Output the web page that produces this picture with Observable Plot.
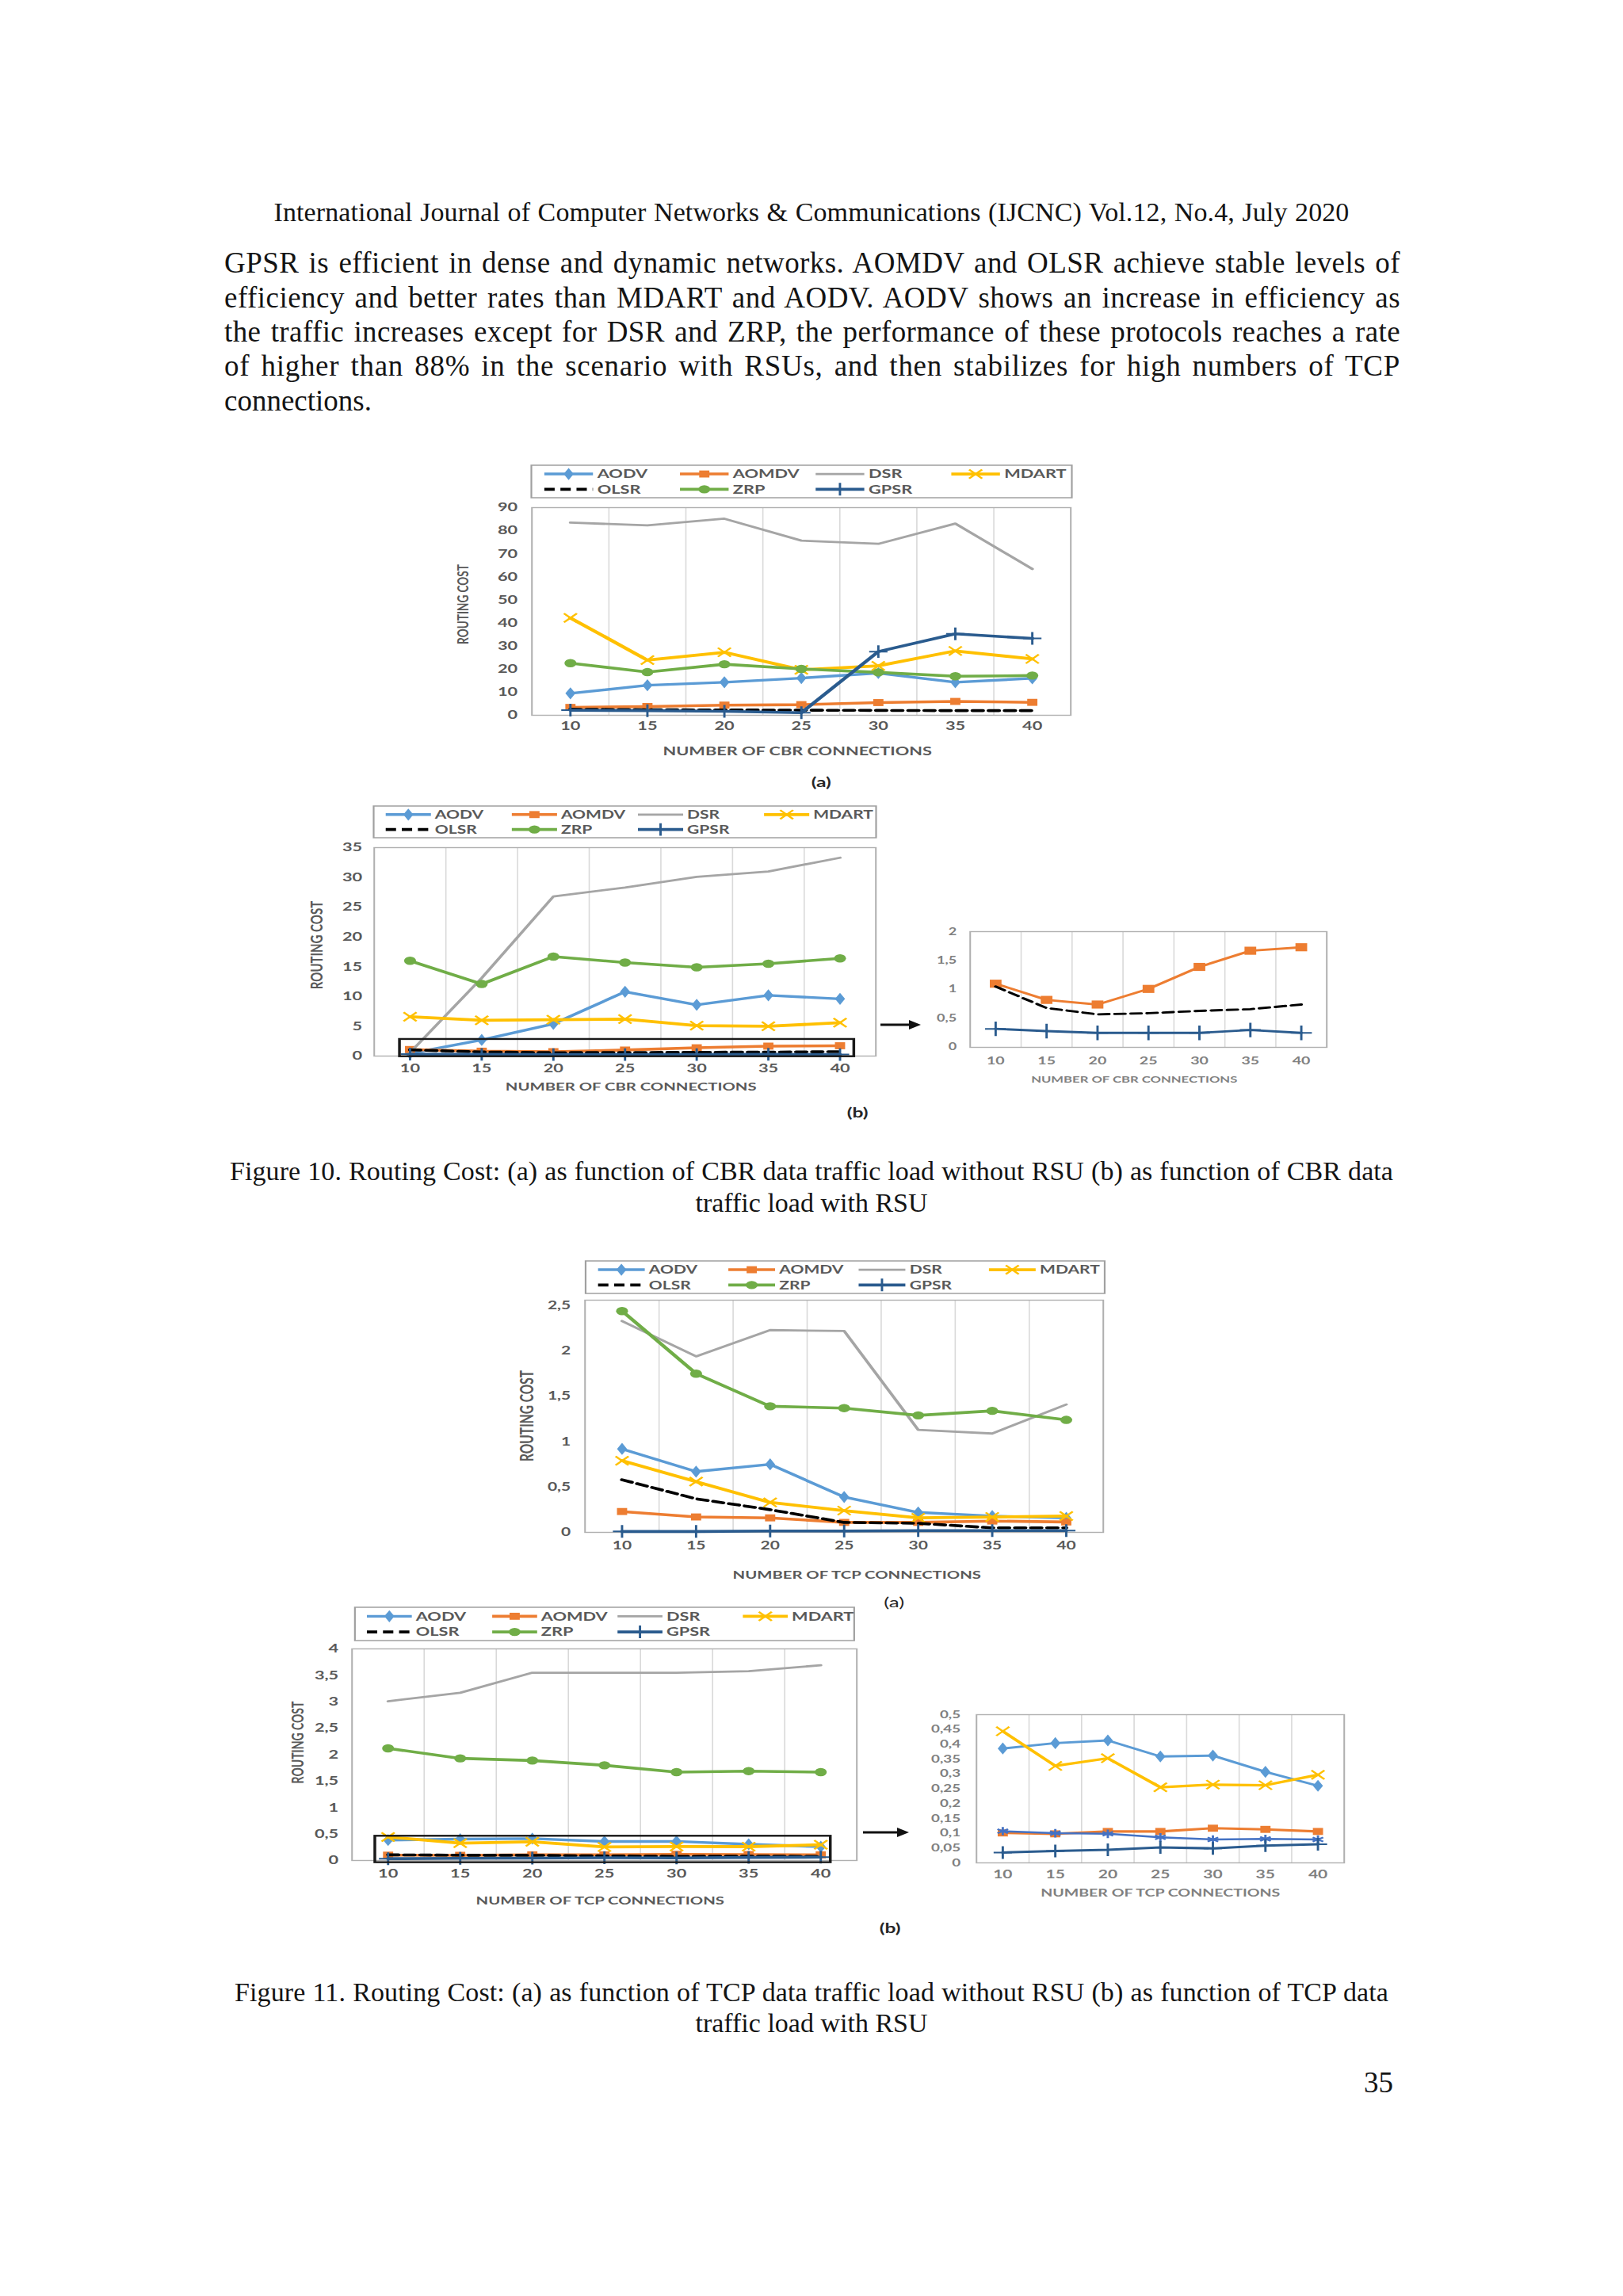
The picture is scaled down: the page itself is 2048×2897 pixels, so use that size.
<!DOCTYPE html>
<html>
<head>
<meta charset="utf-8">
<script src="https://cdn.jsdelivr.net/npm/d3@7"></script>
<script src="https://cdn.jsdelivr.net/npm/@observablehq/plot@0.6"></script>
<style>
html,body{margin:0;padding:0;background:#fff;}
#page{position:relative;width:2048px;height:2897px;overflow:hidden;background:#fff;}
.t{position:absolute;white-space:nowrap;font-family:"Liberation Serif","Times New Roman",serif;color:#141414;line-height:1;}
</style>
</head>
<body>
<div id="page"></div>
<script>
// ---------------- DATA ----------------
const connections = [10, 15, 20, 25, 30, 35, 40];
const protocols = ["AODV", "AOMDV", "DSR", "MDART", "OLSR", "ZRP", "GPSR"];
const legendRows = [["AODV", "AOMDV", "DSR", "MDART"], ["OLSR", "ZRP", "GPSR"]];

// Figure 10 (a): CBR, without RSU
const f10a_AODV  = [9.5, 13.0, 14.3, 16.1, 18.3, 14.3, 16.0];
const f10a_AOMDV = [3.4, 3.8, 4.4, 4.6, 5.5, 6.0, 5.6];
const f10a_DSR   = [83.5, 82.3, 85.2, 75.7, 74.3, 83.1, 63.4];
const f10a_MDART = [42.2, 23.9, 27.3, 19.7, 21.4, 27.9, 24.4];
const f10a_OLSR  = [2.6, 2.4, 2.3, 2.2, 2.1, 2.0, 2.0];
const f10a_ZRP   = [22.6, 18.7, 22.1, 20.1, 18.6, 16.9, 17.2];
const f10a_GPSR  = [2.2, 2.0, 1.7, 1.1, 27.6, 35.3, 33.3];

// Figure 10 (b): CBR, with RSU
const f10b_AODV  = [0.45, 2.7, 5.4, 10.8, 8.6, 10.2, 9.6];
const f10b_AOMDV = [1.10, 0.82, 0.74, 1.01, 1.39, 1.67, 1.73];
const f10b_DSR   = [0.6, 13.1, 26.8, 28.3, 30.1, 31.0, 33.3];
const f10b_MDART = [6.6, 6.0, 6.1, 6.2, 5.1, 5.0, 5.6];
const f10b_OLSR  = [1.05, 0.68, 0.57, 0.59, 0.63, 0.66, 0.74];
const f10b_ZRP   = [16.0, 12.1, 16.7, 15.7, 14.9, 15.5, 16.4];
const f10b_GPSR  = [0.32, 0.28, 0.25, 0.25, 0.25, 0.30, 0.25];

// Figure 11 (a): TCP, without RSU
const f11a_AODV  = [0.92, 0.67, 0.75, 0.39, 0.22, 0.18, 0.16];
const f11a_AOMDV = [0.23, 0.17, 0.16, 0.11, 0.11, 0.125, 0.115];
const f11a_DSR   = [2.33, 1.94, 2.23, 2.22, 1.13, 1.09, 1.41];
const f11a_MDART = [0.79, 0.56, 0.33, 0.24, 0.16, 0.17, 0.18];
const f11a_OLSR  = [0.58, 0.37, 0.25, 0.11, 0.10, 0.05, 0.05];
const f11a_ZRP   = [2.44, 1.75, 1.39, 1.37, 1.29, 1.34, 1.24];
const f11a_GPSR  = [0.01, 0.01, 0.015, 0.015, 0.02, 0.02, 0.02];

// Figure 11 (b): TCP, with RSU
const f11b_AODV  = [0.386, 0.404, 0.413, 0.359, 0.362, 0.307, 0.260];
const f11b_AOMDV = [0.101, 0.098, 0.106, 0.106, 0.117, 0.113, 0.106];
const f11b_DSR   = [3.01, 3.17, 3.55, 3.55, 3.55, 3.58, 3.69];
const f11b_MDART = [0.444, 0.327, 0.353, 0.255, 0.264, 0.262, 0.297];
const f11b_OLSR  = [0.107, 0.100, 0.098, 0.086, 0.079, 0.081, 0.079];
const f11b_ZRP   = [2.12, 1.93, 1.89, 1.80, 1.67, 1.69, 1.67];
const f11b_GPSR  = [0.035, 0.040, 0.044, 0.052, 0.049, 0.058, 0.063];

// tick labels
const f10aTicks = [0, 10, 20, 30, 40, 50, 60, 70, 80, 90];
const f10bTicks = [0, 5, 10, 15, 20, 25, 30, 35];
const f10bZoomTicks = [0, 0.5, 1, 1.5, 2];
const f11aTicks = [0, 0.5, 1, 1.5, 2, 2.5];
const f11bTicks = [0, 0.5, 1, 1.5, 2, 2.5, 3, 3.5, 4];
const f11bZoomTicks = [0, 0.05, 0.1, 0.15, 0.2, 0.25, 0.3, 0.35, 0.4, 0.45, 0.5];

// zoom boxes (data space)
const f10bBox = [{x1: 9.3, x2: 41.0, y1: -0.1, y2: 2.8}];
const f11bBox = [{x1: 9.12, x2: 40.7, y1: -0.04, y2: 0.46}];

// texts
const headerText = "International Journal of Computer Networks & Communications (IJCNC) Vol.12, No.4, July 2020";
const bodyLines = [
  "GPSR is efficient in dense and dynamic networks. AOMDV and OLSR achieve stable levels of",
  "efficiency and better rates than MDART and AODV. AODV shows an increase in efficiency as",
  "the traffic increases except for DSR and ZRP, the performance of these protocols reaches a rate",
  "of higher than 88% in the scenario with RSUs, and then stabilizes for high numbers of TCP",
  "connections."
];
const caption10 = ["Figure 10. Routing Cost: (a) as function of CBR data traffic load without RSU (b) as function of CBR data", "traffic load with RSU"];
const caption11 = ["Figure 11. Routing Cost: (a) as function of TCP data traffic load without RSU (b) as function of TCP data", "traffic load with RSU"];
const pageNumber = "35";

// ---------------- STYLE ----------------
const SX = 1.45; // horizontal stretch of the embedded figures
const CHART_FONT = "Lato, 'Open Sans', 'Liberation Sans', sans-serif";
const STYLE = {
  AODV:  {color: "#5b9bd5", symbol: "diamond", r: 4.6, width: 3.4},
  AOMDV: {color: "#ed7d31", symbol: "square", r: 5, width: 3.6},
  DSR:   {color: "#a5a5a5", symbol: null, width: 2.8},
  MDART: {color: "#ffc000", symbol: "times", r: 5.2, width: 3.8},
  OLSR:  {color: "#000000", symbol: null, width: 3.6, dash: "9,5"},
  ZRP:   {color: "#70ad47", symbol: "circle", r: 5.2, width: 3.6},
  GPSR:  {color: "#2a5b8e", symbol: "plus", r: 5.2, width: 3.6}
};
const STROKE_SYMBOLS = new Set(["plus", "times", "asterisk"]);
const SYM = {diamond: d3.symbolDiamond, square: d3.symbolSquare, circle: d3.symbolCircle,
             plus: d3.symbolPlus, times: d3.symbolTimes, asterisk: d3.symbolAsterisk};

const page = document.getElementById("page");

// ---------------- PAGE TEXT ----------------
function measure(str, fs) {
  const el = document.createElement("div");
  el.className = "t";
  el.textContent = str;
  el.style.fontSize = fs + "px";
  page.appendChild(el);
  const w = el.getBoundingClientRect().width;
  el.remove();
  return w;
}
function fitFs(str, target) { return 40 * target / measure(str, 40); }

// places a line; extra width (if any) is shared between letter and word spacing
function placeLine(str, o) {
  const el = document.createElement("div");
  el.className = "t";
  el.textContent = str;
  el.style.fontSize = o.fs + "px";
  page.appendChild(el);
  const w0 = el.getBoundingClientRect().width;
  let w = w0;
  if (o.width) {
    const extra = o.width - w0;
    const spaces = (str.match(/ /g) || []).length;
    const share = o.letterShare == null ? 0.5 : o.letterShare;
    const ls = extra * share / str.length;
    el.style.letterSpacing = ls + "px";
    const rest = extra - ls * str.length;
    if (spaces) el.style.wordSpacing = (rest / spaces) + "px";
    w = o.width;
  }
  const left = o.align === "center" ? o.x - w / 2 : o.align === "right" ? o.x - w : o.x;
  el.style.left = left + "px";
  el.style.top = (o.y - 0.54 * o.fs) + "px";
}
const headerFs = Math.min(34, fitFs(headerText, 1357));
placeLine(headerText, {x: 1024, y: 269, fs: headerFs, width: 1357, align: "center"});
const bodyFs = Math.min(37, d3.min(bodyLines.slice(0, 4), s => fitFs(s, 1484)));
const bodyY = [333, 377, 420, 463, 507];
bodyLines.forEach((s, i) => placeLine(s, {x: 283, y: bodyY[i], fs: bodyFs, width: i < 4 ? 1484 : null}));
const cap10Fs = Math.min(34, fitFs(caption10[0], 1468));
placeLine(caption10[0], {x: 1024, y: 1479, fs: cap10Fs, width: 1468, align: "center"});
placeLine(caption10[1], {x: 1024, y: 1519, fs: cap10Fs, align: "center"});
const cap11Fs = Math.min(34, fitFs(caption11[0], 1456));
placeLine(caption11[0], {x: 1024, y: 2515, fs: cap11Fs, width: 1456, align: "center"});
placeLine(caption11[1], {x: 1024, y: 2554, fs: cap11Fs, align: "center"});
placeLine(pageNumber, {x: 1758, y: 2629, fs: bodyFs, align: "right"});

// ---------------- CHARTS ----------------
function comma(d) { return String(+(+d).toFixed(3)).replace(".", ","); }

function buildLegend(cont, cfg, left, top) {
  const lg = cfg.legend;
  const w = (lg.x1 - lg.x0) / SX, h = lg.y1 - lg.y0;
  const svg = d3.create("svg")
    .attr("width", w + 4).attr("height", h + 4)
    .style("position", "absolute")
    .style("left", ((lg.x0 - left) / SX - 2) + "px")
    .style("top", (lg.y0 - top - 2) + "px")
    .style("overflow", "visible")
    .style("font-family", CHART_FONT);
  svg.append("rect").attr("x", 2).attr("y", 2).attr("width", w).attr("height", h)
    .attr("fill", "#fff").attr("stroke", "#a0a0a0").attr("stroke-width", 1.5);
  legendRows.forEach((row, ri) => row.forEach((name, ci) => {
    const st = STYLE[name];
    const cy = 2 + h * (ri === 0 ? 0.27 : 0.74);
    const a = 2 + w * (0.024 + 0.251 * ci), b = a + w * 0.09;
    svg.append("line").attr("x1", a).attr("x2", b).attr("y1", cy).attr("y2", cy)
      .attr("stroke", st.color).attr("stroke-width", st.width)
      .attr("stroke-dasharray", st.dash || null);
    if (st.symbol) {
      const stroked = STROKE_SYMBOLS.has(st.symbol);
      svg.append("path")
        .attr("d", d3.symbol(SYM[st.symbol], Math.PI * st.r * st.r)())
        .attr("transform", `translate(${(a + b) / 2},${cy})`)
        .attr("fill", stroked ? "none" : st.color)
        .attr("stroke", stroked ? st.color : "none")
        .attr("stroke-width", stroked ? 2 : 0);
    }
    svg.append("text").attr("x", b + w * 0.008).attr("y", cy).attr("dy", "0.36em")
      .attr("font-size", lg.fs).attr("font-weight", 700).attr("fill", "#595959").text(name);
  }));
  cont.appendChild(svg.node());
}

function buildChart(cfg) {
  const mL = 90, mR = 70, mT = 16, mB = 110;
  const fw = (cfg.R - cfg.L) / SX;
  const fh = cfg.B - cfg.T;
  const width = mL + fw + mR, height = mT + fh + mB;
  const left = cfg.L - SX * mL, top = cfg.T - mT;
  const cont = document.createElement("div");
  cont.style.cssText = `position:absolute;left:${left}px;top:${top}px;width:${width}px;height:${height}px;` +
    `transform:scaleX(${SX});transform-origin:0 0;color:${cfg.tickColor};`;
  page.appendChild(cont);

  const cx = (cfg.L + cfg.R) / 2;
  const gridX = d3.pairs(connections, (a, b) => (a + b) / 2);
  const lw = cfg.lineScale || 1, ms = cfg.markerScale || 1;
  const marks = [
    Plot.ruleX(gridX, {stroke: "#d9d9d9", strokeWidth: 1.1}),
    Plot.frame({stroke: "#b0b0b0", strokeWidth: 1.4}),
    Plot.axisX({ticks: connections, tickSize: 0, tickPadding: cfg.xTickPad, fontSize: cfg.tickFs,
                fontWeight: cfg.tickWeight, fill: cfg.tickColor, label: null}),
    Plot.axisY({ticks: cfg.yTicks, tickSize: 0, tickPadding: (cfg.L - cfg.yLabelRight) / SX, tickFormat: comma,
                fontSize: cfg.yTickFs || cfg.tickFs, fontWeight: cfg.tickWeight, fill: cfg.tickColor, label: null})
  ];
  for (const [name, values] of cfg.series) {
    const st = Object.assign({}, STYLE[name], (cfg.override && cfg.override[name]) || {});
    const rows = connections.map((x, i) => ({x, y: values[i]}));
    marks.push(Plot.line(rows, {x: "x", y: "y", stroke: st.color, strokeWidth: st.width * lw,
      strokeDasharray: st.dash || undefined, strokeLinejoin: "round"}));
    if (st.symbol) {
      const stroked = STROKE_SYMBOLS.has(st.symbol);
      marks.push(Plot.dot(rows, {x: "x", y: "y", symbol: st.symbol, r: st.r * ms,
        fill: stroked ? "none" : st.color, stroke: stroked ? st.color : "none",
        strokeWidth: stroked ? 2 : 0}));
    }
  }
  if (cfg.box) {
    marks.push(Plot.rect(cfg.box, {x1: "x1", x2: "x2", y1: "y1", y2: "y2", fill: "none",
      stroke: "#1a1a1a", strokeWidth: 2.4}));
  }
  marks.push(Plot.text([cfg.xTitle], {text: d => d, frameAnchor: "bottom",
    dx: (cfg.xTitleX - cx) / SX, dy: cfg.xTitleY - cfg.B, lineAnchor: "middle",
    fontSize: cfg.titleFs, fontWeight: 700, fill: cfg.titleColor || "#595959"}));
  if (cfg.yTitle) {
    marks.push(Plot.text([cfg.yTitle], {text: d => d, frameAnchor: "left", rotate: -90,
      dx: (cfg.yTitleX - cfg.L) / SX, dy: cfg.yTitleY - (cfg.T + cfg.B) / 2,
      textAnchor: "middle", lineAnchor: "middle", fontSize: cfg.yTitleFs, fontWeight: 700, fill: "#595959"}));
  }
  if (cfg.tag) {
    marks.push(Plot.text([cfg.tag], {text: d => d, frameAnchor: "bottom",
      dx: (cfg.tagX - cx) / SX, dy: cfg.tagY - cfg.B, lineAnchor: "middle",
      fontSize: cfg.tagFs, fontWeight: cfg.tagWeight, fill: "#262626"}));
  }
  const svg = Plot.plot({
    width, height, marginLeft: mL, marginRight: mR, marginTop: mT, marginBottom: mB,
    x: {domain: [7.5, 42.5]},
    y: {domain: cfg.yDomain},
    marks
  });
  svg.style.fontFamily = CHART_FONT;
  svg.style.maxWidth = "none";
  svg.style.overflow = "visible";
  svg.style.background = "transparent";
  svg.style.position = "absolute";
  svg.style.left = "0px";
  svg.style.top = "0px";
  cont.appendChild(svg);
  if (cfg.legend) buildLegend(cont, cfg, left, top);
}

// Figure 10 (a)
buildChart({
  L: 670, R: 1350, T: 640, B: 902, yDomain: [0, 90], yTicks: f10aTicks, yLabelRight: 652,
  xTickPad: 8, tickFs: 15, tickWeight: 700, tickColor: "#595959",
  xTitle: "NUMBER OF CBR CONNECTIONS", xTitleX: 1005, xTitleY: 948, titleFs: 15,
  yTitle: "ROUTING COST", yTitleX: 583, yTitleY: 762, yTitleFs: 13.6,
  tag: "(a)", tagX: 1035, tagY: 987, tagFs: 17, tagWeight: 700,
  legend: {x0: 670, x1: 1352, y0: 587, y1: 628, fs: 15},
  series: [["AODV", f10a_AODV], ["AOMDV", f10a_AOMDV], ["DSR", f10a_DSR], ["MDART", f10a_MDART],
           ["OLSR", f10a_OLSR], ["ZRP", f10a_ZRP], ["GPSR", f10a_GPSR]]
});

// Figure 10 (b) left
buildChart({
  L: 471, R: 1104, T: 1069, B: 1332, yDomain: [0, 35], yTicks: f10bTicks, yLabelRight: 456,
  xTickPad: 10, tickFs: 15, tickWeight: 700, tickColor: "#595959",
  xTitle: "NUMBER OF CBR CONNECTIONS", xTitleX: 795, xTitleY: 1371, titleFs: 14,
  yTitle: "ROUTING COST", yTitleX: 399, yTitleY: 1192, yTitleFs: 15,
  tag: "(b)", tagX: 1081, tagY: 1404, tagFs: 17, tagWeight: 700,
  legend: {x0: 471, x1: 1105, y0: 1017, y1: 1057, fs: 14.5},
  box: f10bBox,
  series: [["AODV", f10b_AODV], ["AOMDV", f10b_AOMDV], ["DSR", f10b_DSR], ["MDART", f10b_MDART],
           ["OLSR", f10b_OLSR], ["ZRP", f10b_ZRP], ["GPSR", f10b_GPSR]]
});

// Figure 10 (b) zoom
buildChart({
  L: 1223, R: 1673, T: 1175, B: 1321, yDomain: [0, 2], yTicks: f10bZoomTicks, yLabelRight: 1206,
  xTickPad: 12, tickFs: 13.5, yTickFs: 12.5, tickWeight: 700, tickColor: "#808080",
  xTitle: "NUMBER OF CBR CONNECTIONS", xTitleX: 1430, xTitleY: 1362, titleFs: 11.5, titleColor: "#808080",
  lineScale: 0.8, markerScale: 1.15,
  series: [["AOMDV", f10b_AOMDV], ["OLSR", f10b_OLSR], ["GPSR", f10b_GPSR]]
});

// Figure 11 (a)
buildChart({
  L: 737, R: 1391, T: 1640, B: 1933, yDomain: [0, 2.56], yTicks: f11aTicks, yLabelRight: 719,
  xTickPad: 11, tickFs: 14.5, tickWeight: 700, tickColor: "#595959",
  xTitle: "NUMBER OF TCP CONNECTIONS", xTitleX: 1080, xTitleY: 1987, titleFs: 14,
  yTitle: "ROUTING COST", yTitleX: 665, yTitleY: 1786, yTitleFs: 15.5,
  tag: "(a)", tagX: 1127, tagY: 2022, tagFs: 18, tagWeight: 400,
  legend: {x0: 739, x1: 1394, y0: 1591, y1: 1632, fs: 14.5},
  series: [["AODV", f11a_AODV], ["AOMDV", f11a_AOMDV], ["DSR", f11a_DSR], ["MDART", f11a_MDART],
           ["OLSR", f11a_OLSR], ["ZRP", f11a_ZRP], ["GPSR", f11a_GPSR]]
});

// Figure 11 (b) left
buildChart({
  L: 443, R: 1080, T: 2080, B: 2347, yDomain: [0, 4], yTicks: f11bTicks, yLabelRight: 426,
  xTickPad: 11, tickFs: 15, tickWeight: 700, tickColor: "#595959",
  xTitle: "NUMBER OF TCP CONNECTIONS", xTitleX: 756, xTitleY: 2398, titleFs: 14,
  yTitle: "ROUTING COST", yTitleX: 375, yTitleY: 2198, yTitleFs: 14,
  tag: "(b)", tagX: 1122, tagY: 2433, tagFs: 17, tagWeight: 700,
  legend: {x0: 448, x1: 1078, y0: 2028, y1: 2070, fs: 15},
  box: f11bBox,
  series: [["AODV", f11b_AODV], ["AOMDV", f11b_AOMDV], ["DSR", f11b_DSR], ["MDART", f11b_MDART],
           ["OLSR", f11b_OLSR], ["ZRP", f11b_ZRP], ["GPSR", f11b_GPSR]]
});

// Figure 11 (b) zoom
buildChart({
  L: 1231, R: 1695, T: 2163, B: 2350, yDomain: [0, 0.5], yTicks: f11bZoomTicks, yLabelRight: 1211,
  xTickPad: 9, tickFs: 14.5, yTickFs: 13, tickWeight: 700, tickColor: "#808080",
  xTitle: "NUMBER OF TCP CONNECTIONS", xTitleX: 1463, xTitleY: 2388, titleFs: 13.5, titleColor: "#808080",
  lineScale: 0.85,
  override: {OLSR: {color: "#4472c4", symbol: "asterisk", r: 5, dash: null, width: 3}},
  series: [["AODV", f11b_AODV], ["AOMDV", f11b_AOMDV], ["MDART", f11b_MDART],
           ["OLSR", f11b_OLSR], ["GPSR", f11b_GPSR]]
});

// arrows pointing to the zoomed views
const arrowSvg = d3.create("svg").attr("width", 2048).attr("height", 2897)
  .style("position", "absolute").style("left", "0px").style("top", "0px").style("pointer-events", "none");
[[1111, 1162, 1293], [1089, 1147, 2312]].forEach(([a, b, y]) => {
  arrowSvg.append("line").attr("x1", a).attr("x2", b - 12).attr("y1", y).attr("y2", y)
    .attr("stroke", "#111").attr("stroke-width", 3.2);
  arrowSvg.append("path").attr("d", `M${b},${y}L${b - 15},${y - 6}L${b - 15},${y + 6}Z`).attr("fill", "#111");
});
page.appendChild(arrowSvg.node());
</script>
</body>
</html>
